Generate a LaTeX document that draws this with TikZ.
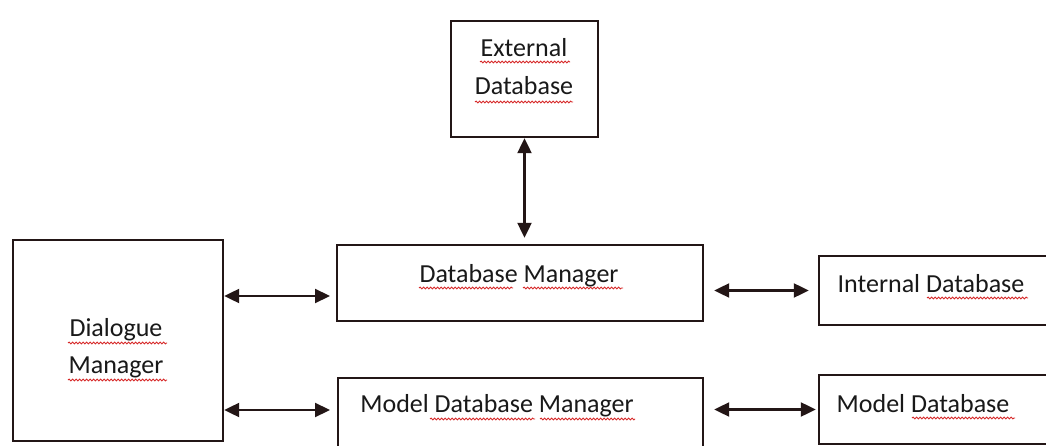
\documentclass[tikz,border=0pt]{standalone}
\usepackage{fontspec}
\setmainfont{Carlito}
\usetikzlibrary{arrows.meta,decorations.pathmorphing}
\definecolor{ink}{RGB}{35,22,22}
\definecolor{txt}{RGB}{25,25,25}
\definecolor{squig}{RGB}{215,40,40}
\tikzset{
  box/.style={draw=ink,line width=2.4pt,rectangle,inner sep=0pt},
  lbl/.style={text=txt,font=\fontsize{26}{38}\selectfont,anchor=base,inner sep=0pt},
  arr/.style={draw=ink,line width=2.2pt,{Triangle[length=15pt,width=14pt]}-{Triangle[length=15pt,width=14pt]}},
  sq/.style={draw=squig,line width=0.9pt,decorate,decoration={snake,amplitude=0.9pt,segment length=3.5pt}}
}
\begin{document}
\begin{tikzpicture}[x=1pt,y=-1pt]
\useasboundingbox (0,0) rectangle (1046,446);
\clip (0,0) rectangle (1046,446);
\fill[white] (0,0) rectangle (1046,446);
% boxes
\node[box,minimum width=147pt,minimum height=116pt] (ext) at (524.5,79) {};
\node[box,minimum width=366pt,minimum height=76pt] (dbm) at (520,283) {};
\node[box,minimum width=210pt,minimum height=201pt] (dlg) at (118,340.5) {};
\node[box,minimum width=365pt,minimum height=92pt] (mdm) at (520.5,424) {};
\node[box,minimum width=241pt,minimum height=69pt] (idb) at (939.5,290.5) {};
\node[box,minimum width=241pt,minimum height=69pt] (mdb) at (939.5,409.5) {};
% texts
\node[lbl] (t1) at (524,57) {External};
\node[lbl] (t2) at (524,95) {Database};
\node[lbl] (t3) at (519,282) {Database Manager};
\node[lbl] (t4) at (116,336) {Dialogue};
\node[lbl] (t5) at (116,373) {Manager};
\node[lbl] (t6) at (497,412) {Model Database Manager};
\node[lbl] (t7) at (931,292) {Internal Database};
\node[lbl] (t8) at (923,412) {Model Database};
% squiggles
\draw[sq] (480,62) -- (570,62);
\draw[sq] (475,102) -- (573,102);
\draw[sq] (68,343) -- (167,343);
\draw[sq] (68,380) -- (167,380);
\draw[sq] (419,288) -- (513,288);
\draw[sq] (523,288) -- (623,288);
\draw[sq] (430,419) -- (535,419);
\draw[sq] (540,419) -- (635,419);
\draw[sq] (927,298) -- (1028,298);
\draw[sq] (912,418) -- (1015,418);
% connectors
\coordinate (a1) at (330,296);
\coordinate (a2) at (330,410);
\draw[arr,shorten >=6pt] (ext.south) -- (ext.south |- dbm.north);
\draw[arr] (dlg.east |- a1) -- (a1);
\draw[arr] (dlg.east |- a2) -- (a2);
\draw[arr,shorten <=10pt,shorten >=9pt] (dbm.east |- idb.west) -- (idb.west);
\draw[arr,shorten <=10pt,shorten >=2pt] (mdm.east |- mdb.west) -- (mdb.west);
\end{tikzpicture}
\end{document}
